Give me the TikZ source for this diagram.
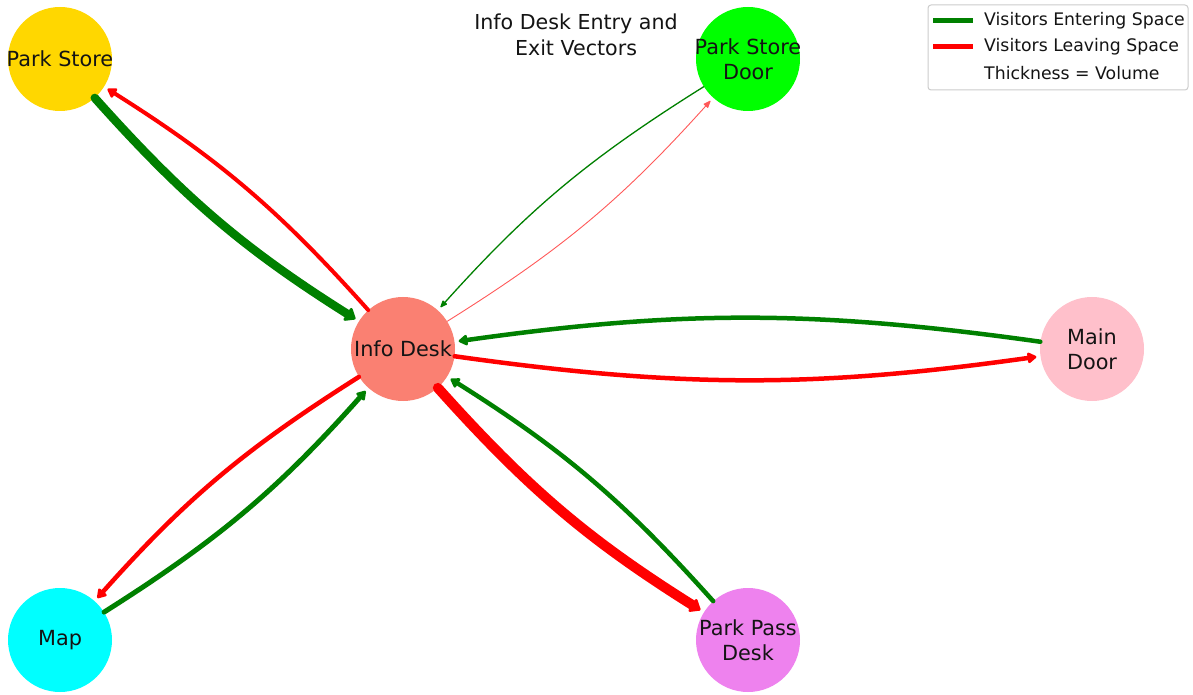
\documentclass[tikz,border=0pt]{standalone}
\usepackage{fontspec}
\setmainfont{DejaVu Sans}
\usetikzlibrary{arrows.meta}
\definecolor{goldc}{HTML}{FFD700}
\definecolor{salmonc}{HTML}{FA8072}
\definecolor{limec}{HTML}{00FF00}
\definecolor{pinkc}{HTML}{FFC0CB}
\definecolor{cyanc}{HTML}{00FFFF}
\definecolor{violetc}{HTML}{EE82EE}
\definecolor{ingreen}{HTML}{008000}
\definecolor{outred}{HTML}{FF0000}
\definecolor{txt}{HTML}{141414}
\begin{document}
\begin{tikzpicture}[x=1pt,y=1pt,
  place/.style={circle, minimum size=104pt, inner sep=0pt},
  lbltext/.style={align=center, font=\fontsize{20.8}{25}\selectfont, text=txt, inner sep=0pt},
  flow/.style={bend right=8, shorten >=4pt, line cap=round},
  enter/.style={flow, draw=ingreen},
  leave/.style={flow, draw=outred},
  tipthin/.style={-{Triangle[length=8pt,width=6pt,round]}},
  tipmid/.style={-{Triangle[length=10pt,width=12pt,round]}},
  tipbig/.style={-{Triangle[length=11pt,width=17pt,round]}},
  legline/.style={line width=5pt},
  legtext/.style={anchor=west, font=\fontsize{17.3}{20}\selectfont, text=txt, inner sep=0pt}
]
\useasboundingbox (0,0) rectangle (1193,694);
\fill[white] (0,0) rectangle (1193,694);

% nodes
\node[place, fill=goldc]   (ps)  at (60,635)   {};
\node[place, fill=limec]   (psd) at (748,635)  {};
\node[place, fill=salmonc] (id)  at (403,345)  {};
\node[place, fill=pinkc]   (md)  at (1092,345) {};
\node[place, fill=cyanc]   (map) at (60,54)    {};
\node[place, fill=violetc] (ppd) at (748,54)   {};

% title
\node[font=\fontsize{20.6}{26}\selectfont, align=center, text=txt] (title) at (576,659)
  {Info Desk Entry and\\Exit Vectors};

% edges
\draw[enter, line width=8.5pt, tipbig] (ps) to (id);
\draw[leave, line width=4pt, tipmid] (id) to (ps);
\draw[enter, line width=1.3pt, tipthin] (psd) to (id);
\draw[leave, draw=outred!65, line width=0.9pt, tipthin] (id) to (psd);
\draw[enter, line width=4.5pt, tipmid] (md) to (id);
\draw[leave, line width=4.5pt, tipmid] (id) to (md);
\draw[enter, line width=5pt, tipmid] (map) to (id);
\draw[leave, line width=4.5pt, tipmid] (id) to (map);
\draw[enter, line width=4.5pt, tipmid] (ppd) to (id);
\draw[leave, line width=10pt, tipbig] (id) to (ppd);

% labels
\node[lbltext] (tps)  at (ps)  {Park Store};
\node[lbltext] (tpsd) at (psd) {Park Store\\Door};
\node[lbltext] (tid)  at (id)  {Info Desk};
\node[lbltext] (tmd)  at (md)  {Main\\Door};
\node[lbltext] (tmap) at (map) {Map};
\node[lbltext] (tppd) at (ppd) {Park Pass\\Desk};

% legend
\draw[rounded corners=3pt, draw=black!20, line width=1pt, fill=white]
  (928,689) rectangle (1188,604);
\coordinate (g1) at (933,673); \coordinate (g2) at (973,673);
\coordinate (r1) at (933,647); \coordinate (r2) at (973,647);
\draw[legline, draw=ingreen] (g1) -- (g2);
\draw[legline, draw=outred] (r1) -- (r2);
\node[legtext] (l1) at (984,673) {Visitors Entering Space};
\node[legtext] (l2) at (984,647) {Visitors Leaving Space};
\node[legtext] (l3) at (984,621) {Thickness = Volume};
\end{tikzpicture}
\end{document}
